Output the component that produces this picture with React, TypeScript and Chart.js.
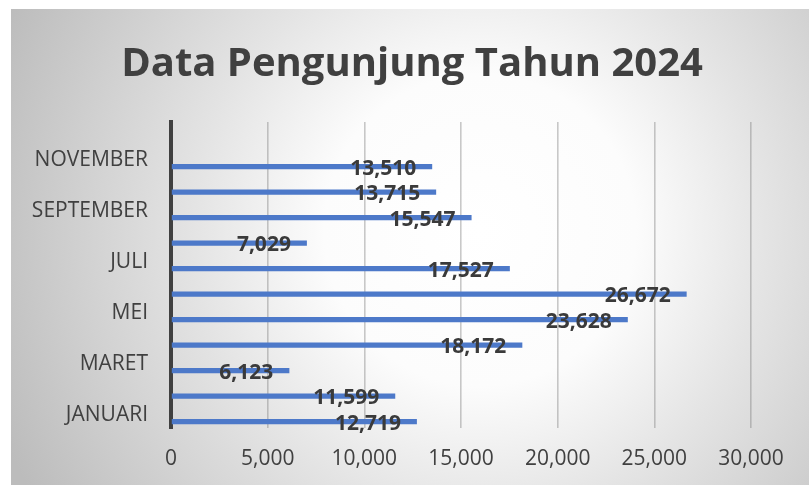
import React, { useEffect, useRef } from "react";
import { Chart, registerables } from "chart.js";

Chart.register(...registerables);

const TITLE = "Data Pengunjung Tahun 2024";
const months = [
  "JANUARI", "FEBRUARI", "MARET", "APRIL", "MEI", "JUNI",
  "JULI", "AGUSTUS", "SEPTEMBER", "OKTOBER", "NOVEMBER", "DESEMBER",
];
const visitors = [12719, 11599, 6123, 18172, 23628, 26672, 17527, 7029, 15547, 13715, 13510, null];
const emptySeries = months.map(() => null);
const xTicks = [0, 5000, 10000, 15000, 20000, 25000, 30000];

const fmt = (v: number) => v.toLocaleString("en-US");
const FONT = "'Open Sans', 'DejaVu Sans', sans-serif";
const TEXT = "#404040";

const backgroundPlugin = {
  id: "bgPanel",
  beforeDraw(chart: any) {
    const { ctx, width, height } = chart;
    ctx.save();
    ctx.fillStyle = "#ffffff";
    ctx.fillRect(0, 0, width, height);
    const g = ctx.createRadialGradient(480, 230, 0, 480, 230, 520);
    g.addColorStop(0, "#ffffff");
    g.addColorStop(0.3, "#fcfcfc");
    g.addColorStop(0.55, "#e4e4e4");
    g.addColorStop(1, "#bcbcbc");
    ctx.fillStyle = g;
    ctx.fillRect(11, 9, width - 11, height - 9);
    // title as real text
    ctx.font = `bold 40px ${FONT}`;
    ctx.fillStyle = TEXT;
    ctx.textAlign = "center";
    ctx.textBaseline = "alphabetic";
    ctx.fillText(TITLE, 412, 76);
    ctx.restore();
  },
};

const valueLabelPlugin = {
  id: "valueLabels",
  afterDatasetsDraw(chart: any) {
    const { ctx } = chart;
    const meta = chart.getDatasetMeta(1);
    ctx.save();
    ctx.font = `bold 21px ${FONT}`;
    ctx.fillStyle = "#3a3a3a";
    ctx.textAlign = "right";
    ctx.textBaseline = "middle";
    meta.data.forEach((el: any, i: number) => {
      const v = visitors[i];
      if (v == null) return;
      ctx.fillText(fmt(v), el.x - 16, el.y + 2);
    });
    ctx.restore();
  },
};

export default function App() {
  const ref = useRef<HTMLCanvasElement | null>(null);
  useEffect(() => {
    document.body.style.margin = "0";
    const chart = new Chart(ref.current as HTMLCanvasElement, {
      type: "bar",
      data: {
        labels: months,
        datasets: [
          { label: "Series1", data: emptySeries as any, backgroundColor: "#4472C4" },
          {
            label: "Pengunjung",
            data: visitors as any,
            backgroundColor: "#4d79c9",
            borderWidth: 0,
          },
        ],
      },
      options: {
        indexAxis: "y",
        responsive: false,
        animation: false,
        categoryPercentage: 1,
        barPercentage: 0.4,
        layout: { padding: { left: 11, right: 58, top: 122, bottom: 0 } },
        plugins: {
          legend: { display: false },
          tooltip: { enabled: false },
          title: { display: false },
        },
        scales: {
          x: {
            min: 0,
            max: 30000,
            afterBuildTicks(scale: any) {
              scale.ticks = xTicks.map((v) => ({ value: v }));
            },
            afterFit(scale: any) {
              scale.height = 57;
            },
            ticks: {
              color: TEXT,
              font: { family: FONT, size: 21 },
              padding: 18,
              callback: (v: any) => fmt(Number(v)),
            },
            grid: { color: "rgba(120,120,120,0.4)", lineWidth: 1.6, drawTicks: false },
            border: { display: false },
          },
          y: {
            reverse: true,
            afterFit(scale: any) {
              scale.width = 160;
            },
            ticks: {
              autoSkip: false,
              color: TEXT,
              font: { family: FONT, size: 21 },
              padding: 23,
              callback: (_v: any, i: number) => (i % 2 === 0 ? months[i] : ""),
            },
            grid: { display: false, drawTicks: false },
            border: { display: true, color: "#404040", width: 4 },
          },
        },
      },
      plugins: [backgroundPlugin, valueLabelPlugin],
    });
    return () => chart.destroy();
  }, []);
  return (
    <div style={{ position: "absolute", left: 0, top: 0, width: 809, height: 485 }}>
      <canvas ref={ref} width={809} height={485} style={{ display: "block" }} />
    </div>
  );
}
